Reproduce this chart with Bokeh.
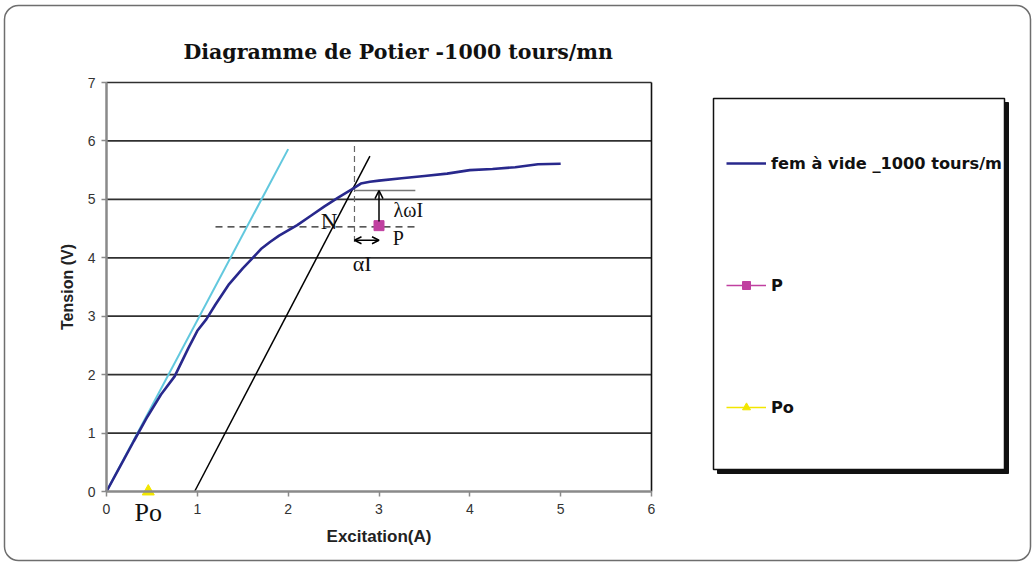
from bokeh.plotting import figure
from bokeh.models import (Range1d, Legend, LegendItem, Label, Arrow, OpenHead,
                          BoxAnnotation, FixedTicker)
from bokeh.embed import file_html
from bokeh.resources import INLINE

# ---- data ----
excitation = [0.0, 0.15, 0.3, 0.45, 0.6, 0.75, 0.9, 1.0, 1.1, 1.2, 1.35, 1.5, 1.6,
              1.7, 1.8, 1.9, 2.0, 2.1, 2.25, 2.4, 2.55, 2.7, 2.8, 2.9, 3.0, 3.25,
              3.5, 3.75, 4.0, 4.25, 4.5, 4.75, 5.0]
fem_vide = [0.0, 0.43, 0.86, 1.28, 1.66, 1.97, 2.45, 2.75, 2.95, 3.2, 3.55, 3.82, 3.98,
            4.15, 4.27, 4.38, 4.47, 4.56, 4.72, 4.88, 5.03, 5.17, 5.27, 5.30, 5.32, 5.36,
            5.40, 5.44, 5.50, 5.52, 5.55, 5.60, 5.61]

air_x = [0.0, 2.0]
air_y = [0.0, 5.86]
potier_x = [0.97, 2.9]
potier_y = [0.0, 5.74]

p_x = [3.0]
p_y = [4.55]
po_x = [0.46]
po_y = [0.0]

dash_h_x = [1.2, 3.4]
dash_h_y = [4.53, 4.53]
dash_v_x = [2.73, 2.73]
dash_v_y = [4.27, 5.97]
short_x = [2.73, 3.4]
short_y = [5.15, 5.15]
arrow_v = (3.0, 4.62, 3.0, 5.15)
arrow_h = (2.73, 4.3, 3.0, 4.3)

x_ticks = [0, 1, 2, 3, 4, 5, 6]
y_ticks = [0, 1, 2, 3, 4, 5, 6, 7]
x_bounds = (0, 6)
y_bounds = (0, 7)

labels = [("N", 2.36, 4.62, "23px"), ("P", 3.15, 4.34, "20px"),
          ("λωI", 3.16, 4.81, "20px"), ("αI", 2.71, 3.90, "22px")]

TITLE = "Diagramme de Potier -1000 tours/mn"
NAVY = "#28288c"
CYAN = "#62c8de"
MAGENTA = "#c040a0"
YELLOW = "#f2e600"

W, H = 1034, 563
# ranges chosen so that the plotting frame fills the whole canvas
# (x = 0 at px 106, x = 6 at px 651; y = 0 at px 491, y = 7 at px 82)
sx = (651 - 106) / 6.0
sy = (491 - 82) / 7.0
p = figure(width=W, height=H, output_backend="svg", toolbar_location=None,
           title=None,
           x_range=Range1d(-106 / sx, (W - 106) / sx),
           y_range=Range1d(-(H - 491) / sy, 491 / sy),
           min_border_left=0, min_border_right=0, min_border_top=0,
           min_border_bottom=0)
p.background_fill_color = "white"
p.border_fill_color = "white"
p.outline_line_color = None

# outer rounded frame
p.add_layout(BoxAnnotation(left=4, right=1030, top=5, bottom=560,
                           left_units="canvas", right_units="canvas",
                           top_units="canvas", bottom_units="canvas",
                           fill_alpha=0, line_color="#6e6e6e", line_alpha=1,
                           line_width=1.5, border_radius=14, level="underlay"))

p.add_layout(Label(x=183, y=51, x_units="canvas", y_units="canvas", text=TITLE,
                   text_font="DejaVu Serif", text_font_style="bold",
                   text_font_size="20.5px", text_color="#111111",
                   text_align="left", text_baseline="alphabetic"))

p.xgrid.grid_line_color = None
p.ygrid.grid_line_color = None
# horizontal grid lines and right border of the plotting area
p.segment(x0=[x_bounds[0]] * (len(y_ticks) - 1), y0=y_ticks[1:],
          x1=[x_bounds[1]] * (len(y_ticks) - 1), y1=y_ticks[1:],
          line_color="#303030", line_width=1.7)
p.segment(x0=[x_bounds[1]], y0=[y_bounds[0]], x1=[x_bounds[1]], y1=[y_bounds[1]],
          line_color="#111111", line_width=1.6)

p.xaxis.ticker = FixedTicker(ticks=x_ticks)
p.yaxis.ticker = FixedTicker(ticks=y_ticks)
p.xaxis.fixed_location = 0
p.yaxis.fixed_location = 0
p.xaxis.bounds = x_bounds
p.yaxis.bounds = y_bounds
for ax in (p.xaxis, p.yaxis):
    ax.axis_line_color = "#8a8a8a"
    ax.axis_line_width = 2.5
    ax.major_tick_line_color = "#8a8a8a"
    ax.major_tick_line_width = 1.5
    ax.major_tick_out = 5
    ax.major_tick_in = 0
    ax.minor_tick_line_color = None
    ax.major_label_text_font = "Liberation Sans"
    ax.major_label_text_font_size = "14px"
    ax.major_label_text_color = "#333333"
    ax.axis_label_text_font = "Liberation Sans"
    ax.axis_label_text_font_style = "bold"
    ax.axis_label_text_color = "#222222"
p.xaxis.axis_label = "Excitation(A)"
p.yaxis.axis_label = "Tension (V)"
p.xaxis.axis_label_text_font_size = "17px"
p.yaxis.axis_label_text_font_size = "16px"
p.xaxis.major_label_standoff = 7
p.yaxis.major_label_standoff = 6
p.xaxis.axis_label_standoff = 10
p.yaxis.axis_label_standoff = 9

# construction lines
p.line(dash_h_x, dash_h_y, line_color="#222222", line_width=1.2, line_dash="7 5")
p.line(dash_v_x, dash_v_y, line_color="#666666", line_width=1.2, line_dash="6 4")
p.line(short_x, short_y, line_color="#777777", line_width=1.5)
p.add_layout(Arrow(x_start=arrow_v[0], y_start=arrow_v[1], x_end=arrow_v[2], y_end=arrow_v[3],
                   line_color="black", line_width=1.5,
                   end=OpenHead(size=8, line_color="black", line_width=1.5)))
p.add_layout(Arrow(x_start=arrow_h[0], y_start=arrow_h[1], x_end=arrow_h[2], y_end=arrow_h[3],
                   line_color="black", line_width=1.5,
                   start=OpenHead(size=7, line_color="black", line_width=1.5),
                   end=OpenHead(size=7, line_color="black", line_width=1.5)))

# series
r_air = p.line(air_x, air_y, line_color=CYAN, line_width=2)
r_pot = p.line(potier_x, potier_y, line_color="black", line_width=1.5)
r_fem = p.line(excitation, fem_vide, line_color=NAVY, line_width=2.6)
r_p_line = p.line(p_x, p_y, line_color=MAGENTA, line_width=1.5)
r_p = p.scatter(p_x, p_y, marker="square", size=10, fill_color=MAGENTA, line_color=MAGENTA)
r_po_line = p.line(po_x, po_y, line_color=YELLOW, line_width=1.5)
r_po = p.scatter(po_x, po_y, marker="triangle", size=12, fill_color=YELLOW, line_color=YELLOW)

for txt, lx, ly, fs in labels:
    p.add_layout(Label(x=lx, y=ly, text=txt, text_font="Liberation Serif",
                       text_font_size=fs, text_color="#111111",
                       text_align="left", text_baseline="alphabetic"))
p.add_layout(Label(x=po_x[0], y=po_y[0], y_offset=-21, text="Po",
                   text_font="Liberation Serif", text_font_size="26px",
                   text_color="#111111", text_align="center",
                   text_baseline="alphabetic"))

# legend box with shadow
p.add_layout(BoxAnnotation(left=717, right=1008, top=102, bottom=473,
                           left_units="canvas", right_units="canvas",
                           top_units="canvas", bottom_units="canvas",
                           fill_color="#111111", fill_alpha=1,
                           line_color="#111111", line_alpha=1))
p.add_layout(BoxAnnotation(left=713, right=1004, top=98, bottom=469,
                           left_units="canvas", right_units="canvas",
                           top_units="canvas", bottom_units="canvas",
                           fill_color="white", fill_alpha=1, line_color="#111111",
                           line_alpha=1, line_width=1.5))

legend = Legend(items=[
    LegendItem(label="fem à vide _1000 tours/m", renderers=[r_fem]),
    LegendItem(label="P", renderers=[r_p_line, r_p]),
    LegendItem(label="Po", renderers=[r_po_line, r_po]),
], location=(726, 146), orientation="vertical", spacing=102,
    glyph_width=40, glyph_height=20, label_height=20, label_standoff=5,
    padding=0, margin=0, background_fill_alpha=0, border_line_color=None,
    label_text_font="DejaVu Sans", label_text_font_style="bold",
    label_text_font_size="16.2px", label_text_color="#111111")
p.add_layout(legend, "center")

open("out.html", "w").write(file_html(p, INLINE))
